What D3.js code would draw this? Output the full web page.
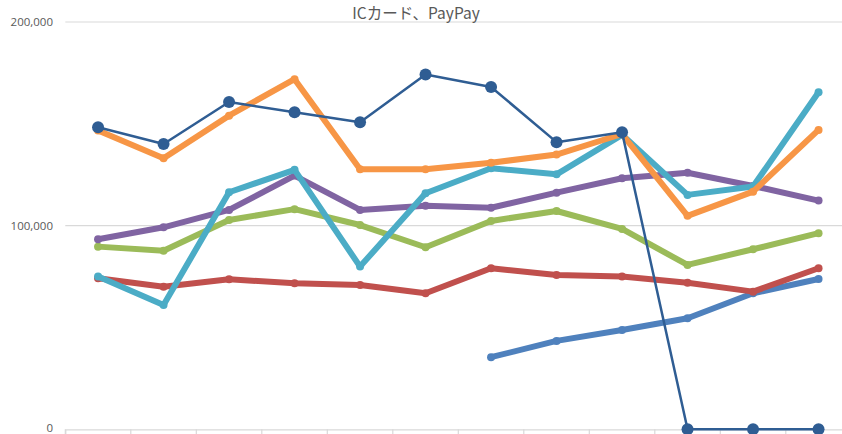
<!DOCTYPE html>
<html>
  <head>
    <meta charset="utf-8">
    <title>ICカード、PayPay</title>
    <script src="https://d3js.org/d3.v7.min.js"></script>
    <style>
      body { margin: 0; background: #fff; }
    </style>
  </head>
  <body>
    <svg width="842" height="434"></svg>
    <script>
      const categories = ["1", "2", "3", "4", "5", "6", "7", "8", "9", "10", "11", "12"];
      const yTicks = [0, 100000, 200000];

      const seriesLightBlue = [null, null, null, null, null, null, 35400, 43400, 48800, 54500, 66800, 73800];
      const seriesRed = [74200, 70000, 73700, 71700, 70900, 66800, 79100, 75800, 75000, 72000, 67600, 79100];
      const seriesGreen = [89700, 87700, 102800, 108100, 100300, 89400, 102300, 107200, 98400, 80700, 88400, 96300];
      const seriesPurple = [93300, 99200, 107700, 124600, 107700, 109800, 108800, 116200, 123300, 126000, 119500, 112300];
      const seriesTeal = [75000, 61000, 116400, 127400, 79900, 115900, 128200, 125200, 144600, 115100, 119200, 165500];
      const seriesOrange = [146700, 133100, 154000, 171900, 127700, 127700, 130900, 134900, 145000, 104800, 116700, 147000];
      const seriesDarkBlue = [148300, 140100, 160700, 155700, 150800, 174200, 168100, 141000, 145900, 0, 0, 0];

      const series = [
        { values: seriesLightBlue, color: "#4f81bd", width: 6, r: 4 },
        { values: seriesRed, color: "#c0504d", width: 6, r: 4 },
        { values: seriesGreen, color: "#9bbb59", width: 6, r: 4 },
        { values: seriesPurple, color: "#8064a2", width: 6, r: 4 },
        { values: seriesTeal, color: "#4bacc6", width: 6, r: 4 },
        { values: seriesOrange, color: "#f79646", width: 6, r: 4 },
        { values: seriesDarkBlue, color: "#2f5d93", width: 2.5, r: 6 }
      ];

      const svg = d3.select("svg");

      const x = d3.scaleBand()
        .domain(categories)
        .range([65.3, 851.3]);

      const y = d3.scaleLinear()
        .domain([0, 200000])
        .range([429.3, 22]);

      // gridlines
      svg.append("g")
        .selectAll("line")
        .data(yTicks.filter(d => d > 0))
        .join("line")
          .attr("x1", 65.3)
          .attr("x2", 842)
          .attr("y1", d => y(d))
          .attr("y2", d => y(d))
          .attr("stroke", "#d9d9d9")
          .attr("stroke-width", 1.2);

      // y tick labels
      svg.append("g")
        .selectAll("text")
        .data(yTicks)
        .join("text")
          .attr("x", 53)
          .attr("y", d => Math.min(y(d) + 4, 432))
          .attr("text-anchor", "end")
          .attr("font-family", "'Open Sans', 'Noto Sans', sans-serif")
          .attr("font-size", 11.5)
          .attr("fill", "#595959")
          .text(d => d3.format(",")(d));

      // x axis
      const xAxis = d3.axisBottom(x)
        .tickSize(5)
        .tickFormat("");
      const gx = svg.append("g")
        .attr("transform", `translate(0,${y(0)})`)
        .call(xAxis);
      gx.selectAll(".tick").remove();
      gx.select(".domain").attr("stroke", "#d9d9d9").attr("stroke-width", 1.2);
      const bounds = categories.map(c => x(c)).concat([x.range()[1]]);
      gx.selectAll("line.bound")
        .data(bounds)
        .join("line")
          .attr("class", "bound")
          .attr("x1", d => d)
          .attr("x2", d => d)
          .attr("y1", 0)
          .attr("y2", 5)
          .attr("stroke", "#d9d9d9")
          .attr("stroke-width", 1.2);

      // title
      svg.append("text")
        .attr("x", 416)
        .attr("y", 19)
        .attr("text-anchor", "middle")
        .attr("font-family", "'Noto Sans CJK JP', sans-serif")
        .attr("font-size", 15.5)
        .attr("fill", "#595959")
        .text("ICカード、PayPay");

      const cx = (d, i) => x(categories[i]) + x.bandwidth() / 2;

      const line = d3.line()
        .defined(d => d != null)
        .x(cx)
        .y(d => y(d));

      series.forEach(s => {
        const g = svg.append("g");
        g.append("path")
          .datum(s.values)
          .attr("d", line)
          .attr("fill", "none")
          .attr("stroke", s.color)
          .attr("stroke-width", s.width)
          .attr("stroke-linejoin", "round")
          .attr("stroke-linecap", "round");
        g.selectAll("circle")
          .data(s.values.map((v, i) => ({ v, i })).filter(d => d.v != null))
          .join("circle")
            .attr("cx", d => cx(d.v, d.i))
            .attr("cy", d => y(d.v))
            .attr("r", s.r)
            .attr("fill", s.color);
      });
    </script>
  </body>
</html>
